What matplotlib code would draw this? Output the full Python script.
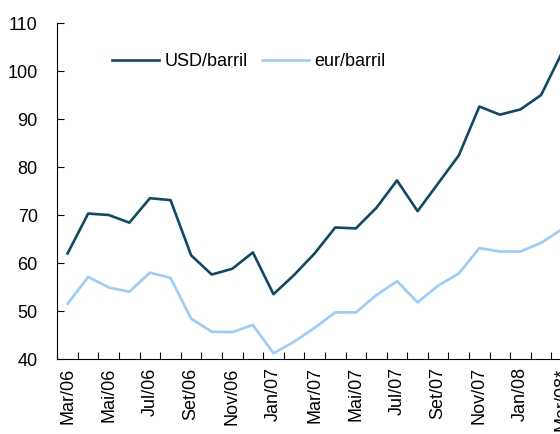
import numpy as np
import matplotlib.pyplot as plt

plt.rcParams['font.family'] = ['Liberation Sans', 'DejaVu Sans']

months = ["Mar/06", "Abr/06", "Mai/06", "Jun/06", "Jul/06", "Ago/06", "Set/06",
          "Out/06", "Nov/06", "Dez/06", "Jan/07", "Fev/07", "Mar/07", "Abr/07",
          "Mai/07", "Jun/07", "Jul/07", "Ago/07", "Set/07", "Out/07", "Nov/07",
          "Dez/07", "Jan/08", "Fev/08", "Mar/08*"]
usd = [62.0, 70.3, 70.0, 68.4, 73.5, 73.1, 61.6, 57.6, 58.8, 62.2, 53.5, 57.5,
       62.0, 67.4, 67.2, 71.5, 77.2, 70.8, 76.6, 82.4, 92.6, 90.9, 92.0, 95.0, 103.7]
eur = [51.5, 57.1, 54.9, 54.0, 58.0, 56.9, 48.4, 45.7, 45.6, 47.1, 41.2, 43.6,
       46.5, 49.7, 49.7, 53.3, 56.2, 51.8, 55.3, 57.8, 63.1, 62.4, 62.4, 64.2, 67.0]

dark = '#0d4a68'
light = '#99ccff'

fig = plt.figure(figsize=(5.6, 4.34), dpi=100)
ax = fig.add_axes([57.3/560, 1-359/434, (572-57.3)/560, (359-23)/434])
x = np.arange(len(months))
ax.plot(x, usd, color=dark, lw=1.9, label="USD/barril", clip_on=False)
ax.plot(x, eur, color=light, lw=1.9, label="eur/barril", clip_on=False)

ax.set_xlim(-0.5, len(months)-0.5)
ax.set_ylim(40, 110)
ax.set_yticks(range(40, 111, 10))
ax.set_xticks(x[::2])
ax.set_xticklabels(months[::2], rotation=90, va='top')
ax.set_xticks(np.arange(-0.5, len(months)), minor=True)
ax.tick_params(axis='x', which='major', length=0, pad=6, labelsize=13)
ax.tick_params(axis='x', which='minor', direction='in', length=5, width=0.8)
ax.tick_params(axis='y', direction='in', length=5, width=0.8, pad=14, labelsize=13)
for s in ['top', 'right']:
    ax.spines[s].set_visible(False)
ax.spines['left'].set_linewidth(0.8)
ax.spines['bottom'].set_linewidth(0.8)

fig.legend(loc='center left', bbox_to_anchor=(112/560, 1-62/434), ncol=2,
           frameon=False, borderpad=0, borderaxespad=0, handlelength=2.6,
           handletextpad=0.3, columnspacing=0.8, fontsize=13)

fig.savefig('out.png', dpi=100)
